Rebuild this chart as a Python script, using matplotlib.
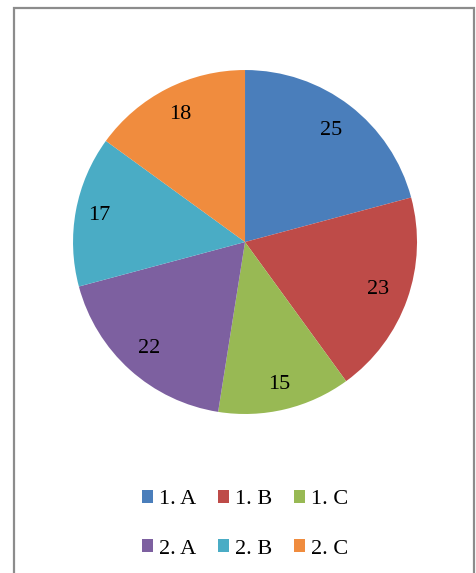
import numpy as np
import matplotlib

matplotlib.use("Agg")
import matplotlib.pyplot as plt
from matplotlib.patches import Rectangle

labels = ["1. A", "1. B", "1. C", "2. A", "2. B", "2. C"]
values = [25, 23, 15, 22, 17, 18]
colors = ["#4A7EBB", "#BE4B48", "#98B954", "#7D60A0", "#4AACC5", "#F08C3E"]
label_dist = [0.82, 0.82, 0.85, 0.83, 0.86, 0.83]

plt.rcParams["font.family"] = ["Liberation Serif", "DejaVu Serif"]

fig = plt.figure(figsize=(4.76, 5.73), dpi=100)
fig.patches.append(Rectangle((0.0284, -0.02), 0.9684, 1.0052, transform=fig.transFigure,
                             fill=False, edgecolor="#8c8c8c", linewidth=1.6))

ax = fig.add_axes([0.1534, 0.2775, 0.7227, 0.6003])
wedges, _ = ax.pie(values, colors=colors, startangle=90, counterclock=False,
                   wedgeprops=dict(linewidth=0))
for w, v, d in zip(wedges, values, label_dist):
    mid = np.deg2rad((w.theta1 + w.theta2) / 2)
    ax.text(d * np.cos(mid), d * np.sin(mid), str(v), ha="center", va="center",
            fontsize=16, color="black")
ax.set_xlim(-1, 1)
ax.set_ylim(-1, 1)
ax.set_aspect("equal")

# legend fills column-wise, so reorder to read row by row
order = [0, 3, 1, 4, 2, 5]
handles = [Rectangle((0, 0), 1, 1, facecolor=colors[i], edgecolor="none") for i in order]
fig.legend(handles, [labels[i] for i in order], loc="center", bbox_to_anchor=(0.515, 0.085),
           ncol=3, frameon=False, fontsize=16, handlelength=0.5, handleheight=0.5,
           handletextpad=0.25, columnspacing=1.0, labelspacing=1.35)

fig.savefig("out.png", dpi=100)
